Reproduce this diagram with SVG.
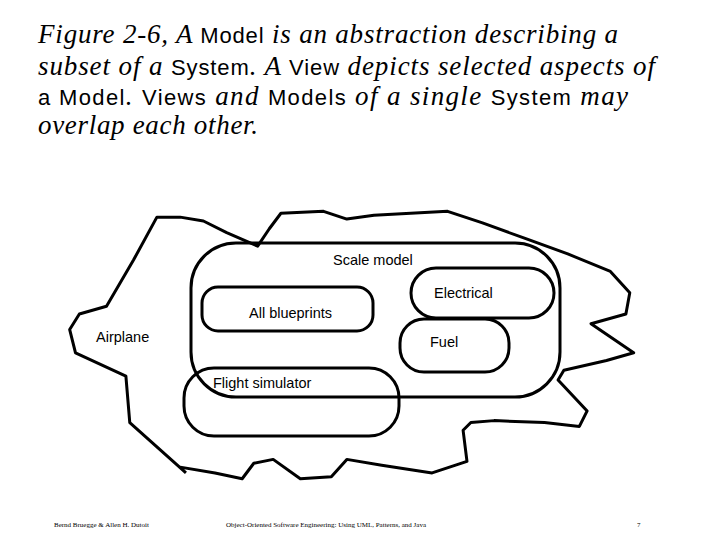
<svg xmlns="http://www.w3.org/2000/svg" width="720" height="540" viewBox="0 0 720 540">
<style>
.t{font-family:"Liberation Serif",serif;font-style:italic;font-size:27px;fill:#000}
.s{font-family:"Liberation Sans",sans-serif;font-style:normal;font-size:22px}
.l{font-family:"Liberation Sans",sans-serif;font-size:14.5px;fill:#000}
.b{fill:none;stroke:#000;stroke-width:3;stroke-linejoin:round}
.f{font-family:"Liberation Serif",serif;font-size:7px;fill:#000}
</style>
<rect width="720" height="540" fill="#fff"/>
<text class="t" x="38" y="43" textLength="580" lengthAdjust="spacing">Figure 2-6, A <tspan class="s">Model</tspan> is an abstraction describing a</text>
<text class="t" x="38" y="75" textLength="617" lengthAdjust="spacing">subset of a <tspan class="s">System</tspan>. A <tspan class="s">View</tspan> depicts selected aspects of</text>
<text class="t" x="38" y="105" textLength="590" lengthAdjust="spacing"><tspan class="s">a Model</tspan>. <tspan class="s">Views</tspan> and <tspan class="s">Models</tspan> of a single <tspan class="s">System</tspan> may</text>
<text class="t" x="38" y="134" textLength="220" lengthAdjust="spacing">overlap each other.</text>
<g id="airplane">
<polyline class="b" vector-effect="non-scaling-stroke" transform="translate(60,190) scale(0.3876)" points="325,730 180,600 170,480 40,420 25,360 50,320 120,300 190,180 250,70 310,70 370,80 430,110 510,145 540,100 570,60 680,55 740,75 810,65 1000,55 1090,85 1200,125 1310,165 1420,210 1470,265 1460,320 1370,345 1480,420 1410,440 1300,465 1285,490 1360,570 1340,610 1250,600 1120,595 1060,600 1040,620 1050,700 960,730 830,710 740,695 700,740 620,745 550,695 500,705 470,745 400,730 310,715"/>
<text class="l" x="96" y="342">Airplane</text>
</g>
<g id="scale-model"><rect class="b" x="191" y="243" width="369" height="154" rx="45"/><text class="l" x="333" y="265">Scale model</text></g>
<g id="electrical"><rect class="b" x="411" y="268" width="143" height="50" rx="25"/><text class="l" x="434" y="298">Electrical</text></g>
<g id="blueprints"><rect class="b" x="202" y="287" width="171" height="44" rx="16"/><text class="l" x="249" y="318">All blueprints</text></g>
<g id="fuel"><rect class="b" x="400" y="319" width="109" height="53" rx="24"/><text class="l" x="430" y="347">Fuel</text></g>
<g id="flight-simulator"><rect class="b" x="184" y="368" width="215" height="68" rx="30"/><text class="l" x="213" y="388">Flight simulator</text></g>
<g id="connectors"/>
<text class="f" x="54" y="527">Bernd Bruegge &amp; Allen H. Dutoit</text>
<text class="f" x="226" y="527">Object-Oriented Software Engineering: Using UML, Patterns, and Java</text>
<text class="f" x="637" y="527">7</text>
</svg>
